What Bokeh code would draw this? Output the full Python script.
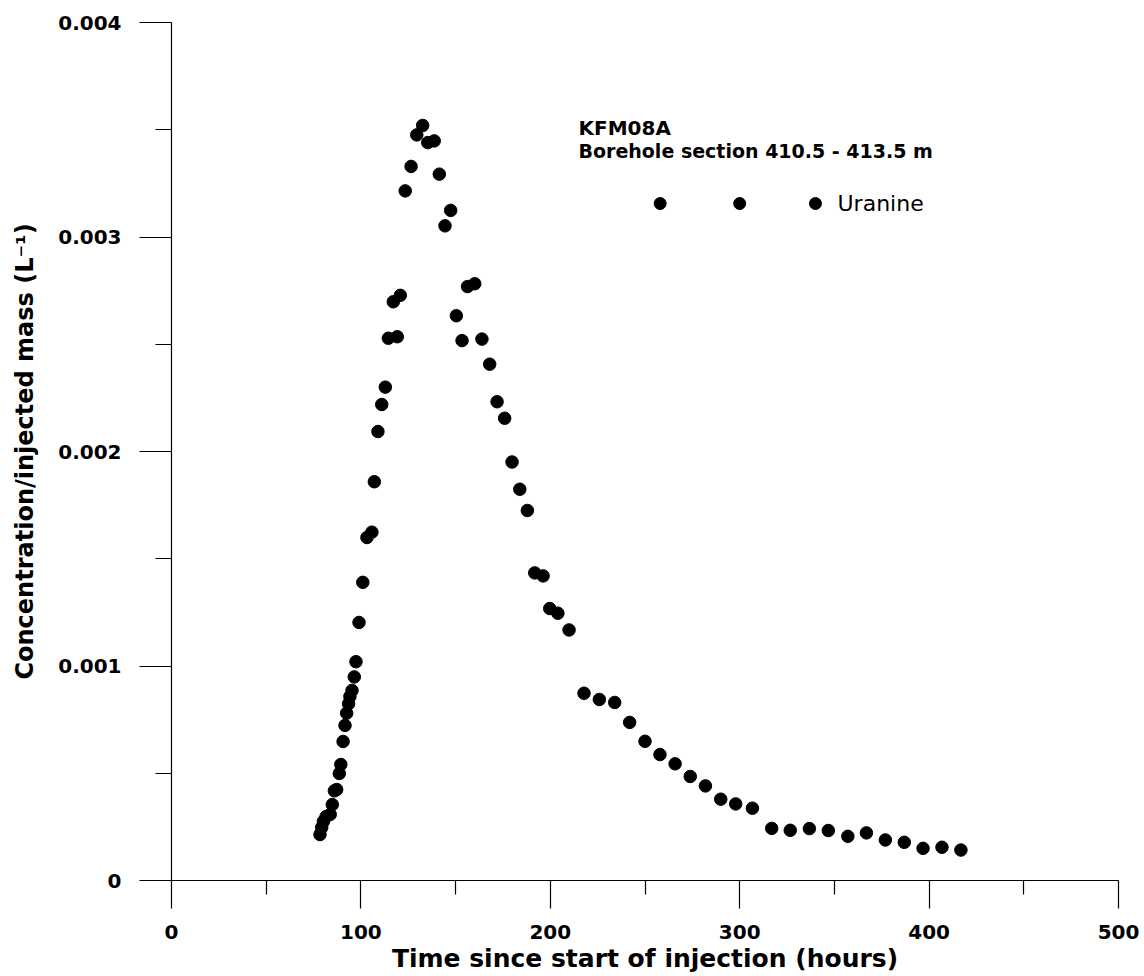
from bokeh.plotting import figure
from bokeh.models import Range1d, FixedTicker, Label, Title
from bokeh.embed import file_html
from bokeh.resources import INLINE

# ---- data ----
time_h = [78.4, 79.3, 80.2, 81.6, 83.8, 84.9, 86.0, 87.2, 88.6, 89.4,
          90.6, 91.6, 92.5, 93.5, 94.2, 95.3, 96.5, 97.4, 99.0, 101.0,
          103.2, 105.8, 107.1, 109.0, 111.0, 112.9, 114.5, 117.1, 119.2, 120.8,
          123.4, 126.5, 129.5, 132.6, 135.3, 138.7, 141.4, 144.4, 147.4, 150.4,
          153.4, 156.3, 160.1, 163.9, 168.0, 171.9, 175.9, 179.8, 183.9, 187.9,
          191.8, 196.2, 199.7, 204.0, 209.9, 217.8, 225.9, 234.0, 241.9, 250.0,
          257.9, 265.9, 273.9, 281.9, 290.0, 297.9, 306.7, 316.9, 326.7, 336.8,
          346.8, 357.1, 366.9, 376.9, 386.9, 396.8, 406.8, 416.8]
uranine = [0.000214, 0.000247, 0.000275, 0.000298, 0.000308, 0.000354, 0.000418, 0.000424, 0.000499, 0.000541,
           0.000648, 0.000723, 0.000780, 0.000824, 0.000858, 0.000886, 0.000949, 0.001020, 0.001203, 0.001390,
           0.001599, 0.001624, 0.001859, 0.002093, 0.002219, 0.002300, 0.002528, 0.002698, 0.002535, 0.002728,
           0.003215, 0.003329, 0.003476, 0.003520, 0.003440, 0.003448, 0.003293, 0.003052, 0.003124, 0.002633,
           0.002517, 0.002769, 0.002782, 0.002524, 0.002407, 0.002232, 0.002155, 0.001951, 0.001824, 0.001725,
           0.001434, 0.001420, 0.001268, 0.001246, 0.001168, 0.000873, 0.000844, 0.000830, 0.000737, 0.000649,
           0.000587, 0.000544, 0.000485, 0.000441, 0.000379, 0.000357, 0.000337, 0.000243, 0.000234, 0.000242,
           0.000233, 0.000206, 0.000222, 0.000189, 0.000178, 0.000150, 0.000155, 0.000142]

x_ticks = [0, 100, 200, 300, 400, 500]
x_minor = [50, 150, 250, 350, 450]
x_labels = ["0", "100", "200", "300", "400", "500"]
y_ticks = [0.0, 0.001, 0.002, 0.003, 0.004]
y_minor = [0.0005, 0.0015, 0.0025, 0.0035]
y_labels = ["0", "0.001", "0.002", "0.003", "0.004"]

legend_x = [258, 300, 340]
legend_y = [0.003156, 0.003156, 0.003156]

FONT = "DejaVu Sans"

p = figure(frame_width=947, frame_height=858, output_backend="svg", toolbar_location=None,
           x_range=Range1d(0, 500), y_range=Range1d(0, 0.004),
           min_border_left=171, min_border_right=26, min_border_top=22, min_border_bottom=96)
p.outline_line_color = None
p.xgrid.visible = False
p.ygrid.visible = False
p.background_fill_color = "white"
p.border_fill_color = "white"

p.xaxis.ticker = FixedTicker(ticks=x_ticks, minor_ticks=x_minor)
p.yaxis.ticker = FixedTicker(ticks=y_ticks, minor_ticks=y_minor)
p.xaxis.major_label_overrides = {t: l for t, l in zip(x_ticks, x_labels)}
p.yaxis.major_label_overrides = {t: l for t, l in zip(y_ticks, y_labels)}

for ax in (p.xaxis, p.yaxis):
    ax.axis_line_color = "black"
    ax.axis_line_width = 1.2
    ax.major_tick_line_color = "black"
    ax.minor_tick_line_color = "black"
    ax.major_tick_line_width = 1.2
    ax.minor_tick_line_width = 1.2
    ax.major_tick_in = 0
    ax.minor_tick_in = 0
    ax.major_label_text_font = FONT
    ax.major_label_text_font_style = "bold"
    ax.major_label_text_font_size = "20px"
    ax.major_label_text_color = "black"

p.xaxis.major_tick_out = 28
p.xaxis.minor_tick_out = 14
p.xaxis.major_label_standoff = 16
p.yaxis.major_tick_out = 32
p.yaxis.minor_tick_out = 16
p.yaxis.major_label_standoff = 18

# y-axis title
p.yaxis.axis_label = "Concentration/injected mass (L\u207b\u00b9)"
p.yaxis.axis_label_text_font = FONT
p.yaxis.axis_label_text_font_style = "bold"
p.yaxis.axis_label_text_font_size = "24px"
p.yaxis.axis_label_text_color = "black"
p.yaxis.axis_label_standoff = 16

# x-axis title
p.add_layout(Title(text="Time since start of injection (hours)", align="center",
                   text_font=FONT, text_font_style="bold", text_font_size="25px",
                   text_color="black", standoff=0), "below")

p.scatter(time_h, uranine, size=12.5, color="black", marker="circle")
p.scatter(legend_x, legend_y, size=12, color="black", marker="circle")

# Annotations inside the frame (screen units, relative to the plot frame)
p.add_layout(Label(x=407, y=753, x_units="screen", y_units="screen",
                   text="KFM08A", text_font=FONT,
                   text_font_style="bold", text_font_size="20px", text_align="left",
                   text_baseline="middle", text_color="black"))
p.add_layout(Label(x=407, y=730, x_units="screen", y_units="screen",
                   text="Borehole section 410.5 - 413.5 m", text_font=FONT,
                   text_font_style="bold", text_font_size="19px", text_align="left",
                   text_baseline="middle", text_color="black"))
p.add_layout(Label(x=666, y=677, x_units="screen", y_units="screen",
                   text="Uranine", text_font=FONT,
                   text_font_size="22px", text_align="left",
                   text_baseline="middle", text_color="black"))

open("out.html", "w").write(file_html(p, INLINE))
